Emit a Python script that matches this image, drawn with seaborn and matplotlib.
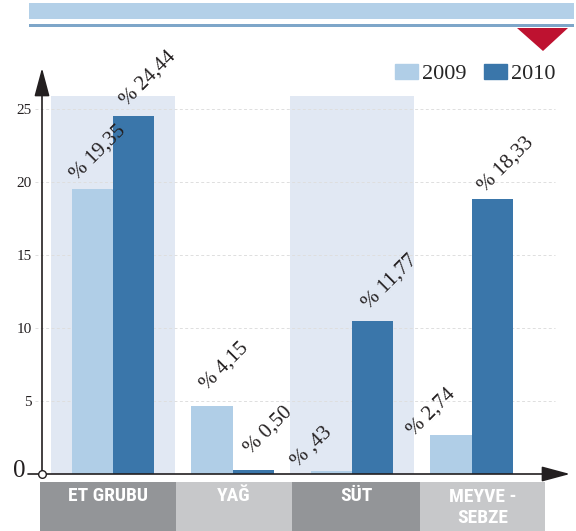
import matplotlib
matplotlib.use("Agg")
import matplotlib.pyplot as plt
import seaborn as sns
import pandas as pd
from matplotlib import font_manager
from matplotlib.patches import Rectangle, Polygon, Patch

# veriler
gruplar = ["ET GRUBU", "YAĞ", "SÜT", "MEYVE -\nSEBZE"]
yillar = ["2009", "2010"]
deger_2009 = [19.5, 4.65, 0.2, 2.67]
deger_2010 = [24.5, 0.3, 10.5, 18.8]
etiket_2009 = ["% 19,35", "% 4,15", "% ,43", "% 2,74"]
etiket_2010 = ["% 24,44", "% 0,50", "% 11,77", "% 18,33"]
y_ticks = [5, 10, 15, 20, 25]

# etiket kaydirmalari (piksel)
off_2009 = [(6, 37), (13, 40), (-20, 24), (-19, 23)]
off_2010 = [(15, 38), (15, 39), (17, 39), (14, 35)]

acik = "#b0cee7"
koyu = "#3a76aa"
golge = "#e1e8f3"
siyah = "#231f20"

df = pd.DataFrame({
    "grup": gruplar * 2,
    "yil": ["2009"] * 4 + ["2010"] * 4,
    "deger": deger_2009 + deger_2010,
})

sns.set_style("white")
plt.rcParams["font.family"] = ["Liberation Serif", "DejaVu Serif"]

names = {f.name for f in font_manager.fontManager.ttflist}
dar_font = "Liberation Sans"
for aday in ["Liberation Sans Narrow", "Roboto Condensed", "Open Sans Condensed", "Roboto", "Liberation Sans"]:
    if aday in names:
        dar_font = aday
        break

W, H = 576, 531
fig = plt.figure(figsize=(5.76, 5.31), dpi=100)
ax = fig.add_axes([42 / W, (H - 474) / H, (570 - 42) / W, (474 - 68) / H])

# arka plan golgeleri
for i in [0, 2]:
    ax.axvspan(i - 0.52, i + 0.52, ymin=0, ymax=25.85 / 27.8, color=golge, lw=0, zorder=0)

ax.hlines(y_ticks, -0.013, 0.972, transform=ax.get_yaxis_transform(), colors="#dedede",
          linestyles=(0, (3, 2.5)), lw=0.7, zorder=1, clip_on=False)

sns.barplot(data=df, x="grup", y="deger", hue="yil", palette=[acik, koyu], width=0.69,
            saturation=1, ax=ax, legend=False, zorder=3, linewidth=0, edgecolor="none")

ax.set_xlim(-0.594, 3.824)
ax.set_ylim(0, 27.8)
ax.set_xticks([])
ax.set_yticks(y_ticks)
ax.tick_params(axis="y", length=0, pad=7.2, labelsize=11, labelcolor=siyah)
ax.set_xlabel("")
ax.set_ylabel("")
for s in ax.spines.values():
    s.set_visible(False)

# yuzde etiketleri
for cont, etiketler, offs in zip(ax.containers, [etiket_2009, etiket_2010], [off_2009, off_2010]):
    for bar, txt, (dx, dy) in zip(cont, etiketler, offs):
        x = bar.get_x() + bar.get_width() / 2
        ax.annotate(txt, xy=(x, bar.get_height()), xytext=(dx, dy), textcoords="offset pixels",
                    rotation=45, rotation_mode="anchor", ha="center", va="center",
                    fontsize=15, color=siyah, zorder=5)

# eksen oklari
ok = dict(arrowstyle="-|>,head_length=1.75,head_width=0.47", mutation_scale=10,
          shrinkA=0, shrinkB=0, lw=1.2, color=siyah)
ax.annotate("", xy=(0, 1), xytext=(0, 0), xycoords="axes fraction", arrowprops=ok, annotation_clip=False)
ax.annotate("", xy=(1, 0), xytext=(0, 0), xycoords="axes fraction", arrowprops=ok, annotation_clip=False)
ax.plot([-0.0265, 0], [0, 0], transform=ax.transAxes, color=siyah, lw=1.2, clip_on=False, zorder=9)
ax.plot(0, 0, transform=ax.transAxes, marker="o", ms=5.5, mfc="white", mec=siyah, mew=1,
        clip_on=False, zorder=10)
fig.text(19.5 / W, 1 - 471 / H, "0", fontsize=18, ha="center", va="center", color=siyah)

# alt kategori kutulari
kenarlar = [-0.61, 0.527, 1.498, 2.569, 3.615]
kutu_renk = ["#939598", "#c7c8ca", "#939598", "#c7c8ca"]
tr = ax.get_xaxis_transform()
for i, ad in enumerate(gruplar):
    x0, x1 = kenarlar[i], kenarlar[i + 1]
    ax.add_patch(Rectangle((x0, -0.1404), x1 - x0, 0.1207, transform=tr, color=kutu_renk[i],
                           lw=0, clip_on=False))
    yy = -0.0825 if "\n" in ad else -0.0554
    ax.text((x0 + x1) / 2, yy, ad, transform=tr, ha="center", va="center", color="white",
            fontsize=14, fontweight="bold", family=dar_font, linespacing=1.2)

# ust baslik bandi
fig.add_artist(Rectangle((29 / W, 1 - 19 / H), (574 - 29) / W, 16 / H,
                         transform=fig.transFigure, color="#b3d0e8", lw=0))
fig.add_artist(Rectangle((29 / W, 1 - 26.5 / H), (574 - 29) / W, 2.5 / H,
                         transform=fig.transFigure, color="#7ea6c9", lw=0))
fig.add_artist(Polygon([(517 / W, 1 - 28 / H), (568 / W, 1 - 28 / H), (543 / W, 1 - 51 / H)],
                       closed=True, transform=fig.transFigure, color="#be1230", lw=0))

# lejant
handles = [Patch(color=acik), Patch(color=koyu)]
fig.legend(handles, yillar, loc="center left", bbox_to_anchor=(395 / W, 1 - 74 / H), ncol=2,
           frameon=False, fontsize=16, handlelength=1.04, handleheight=0.63, handletextpad=0.18,
           columnspacing=0.77, borderpad=0, borderaxespad=0)

fig.savefig("out.png", dpi=100)
